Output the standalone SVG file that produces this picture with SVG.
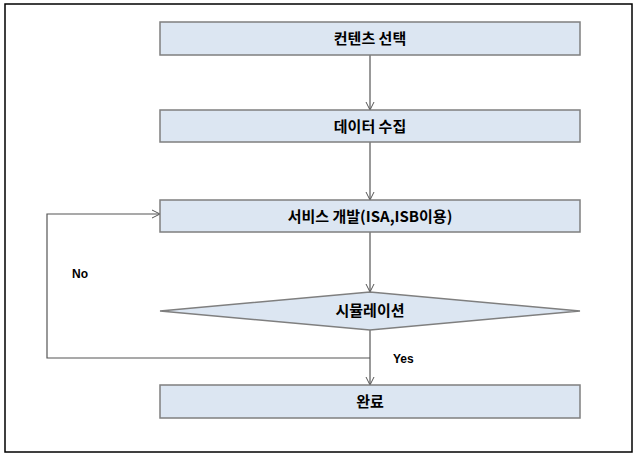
<svg xmlns="http://www.w3.org/2000/svg" width="638" height="466" viewBox="0 0 638 466">
<style>
.n{fill:#dce6f2;stroke:#7f7f7f;stroke-width:1.5}
.t{font-family:"Noto Sans CJK KR","Liberation Sans",sans-serif;font-weight:bold;font-size:15px;text-anchor:middle;fill:#000}
.c{fill:none;stroke:#555;stroke-width:1.2}
.l{font-family:"Liberation Sans",sans-serif;font-weight:bold;font-size:12px;fill:#000}
</style>
<defs><marker id="a" markerWidth="10" markerHeight="10" refX="9" refY="5" orient="auto" markerUnits="userSpaceOnUse"><path d="M1,1 L9,5 L1,9" fill="none" stroke="#555" stroke-width="1"/></marker></defs>
<rect x="5" y="4" width="627" height="448" fill="#fff" stroke="#000" stroke-width="1.5"/>
<g id="connectors">
<line class="c" x1="370" y1="55" x2="370" y2="110" marker-end="url(#a)"/>
<line class="c" x1="370" y1="142" x2="370" y2="200" marker-end="url(#a)"/>
<line class="c" x1="370" y1="232" x2="370" y2="292" marker-end="url(#a)"/>
<line class="c" x1="370" y1="330" x2="370" y2="385" marker-end="url(#a)"/>
<polyline class="c" points="370,358 47,358 47,214 160,214" marker-end="url(#a)"/>
<text class="l" x="72" y="278">No</text>
<text class="l" x="393" y="363">Yes</text>
</g>
<g id="n1"><rect class="n" x="160" y="22" width="420" height="33"/><text class="t" x="370" y="44">컨텐츠 선택</text></g>
<g id="n2"><rect class="n" x="160" y="110" width="420" height="32"/><text class="t" x="370" y="132">데이터 수집</text></g>
<g id="n3"><rect class="n" x="160" y="200" width="420" height="32"/><text class="t" x="370" y="222">서비스 개발(ISA,ISB이용)</text></g>
<g id="n4"><polygon class="n" points="160,311 370,292 580,311 370,330"/><text class="t" x="370" y="316">시뮬레이션</text></g>
<g id="n5"><rect class="n" x="160" y="385" width="420" height="33"/><text class="t" x="370" y="407">완료</text></g>
</svg>
